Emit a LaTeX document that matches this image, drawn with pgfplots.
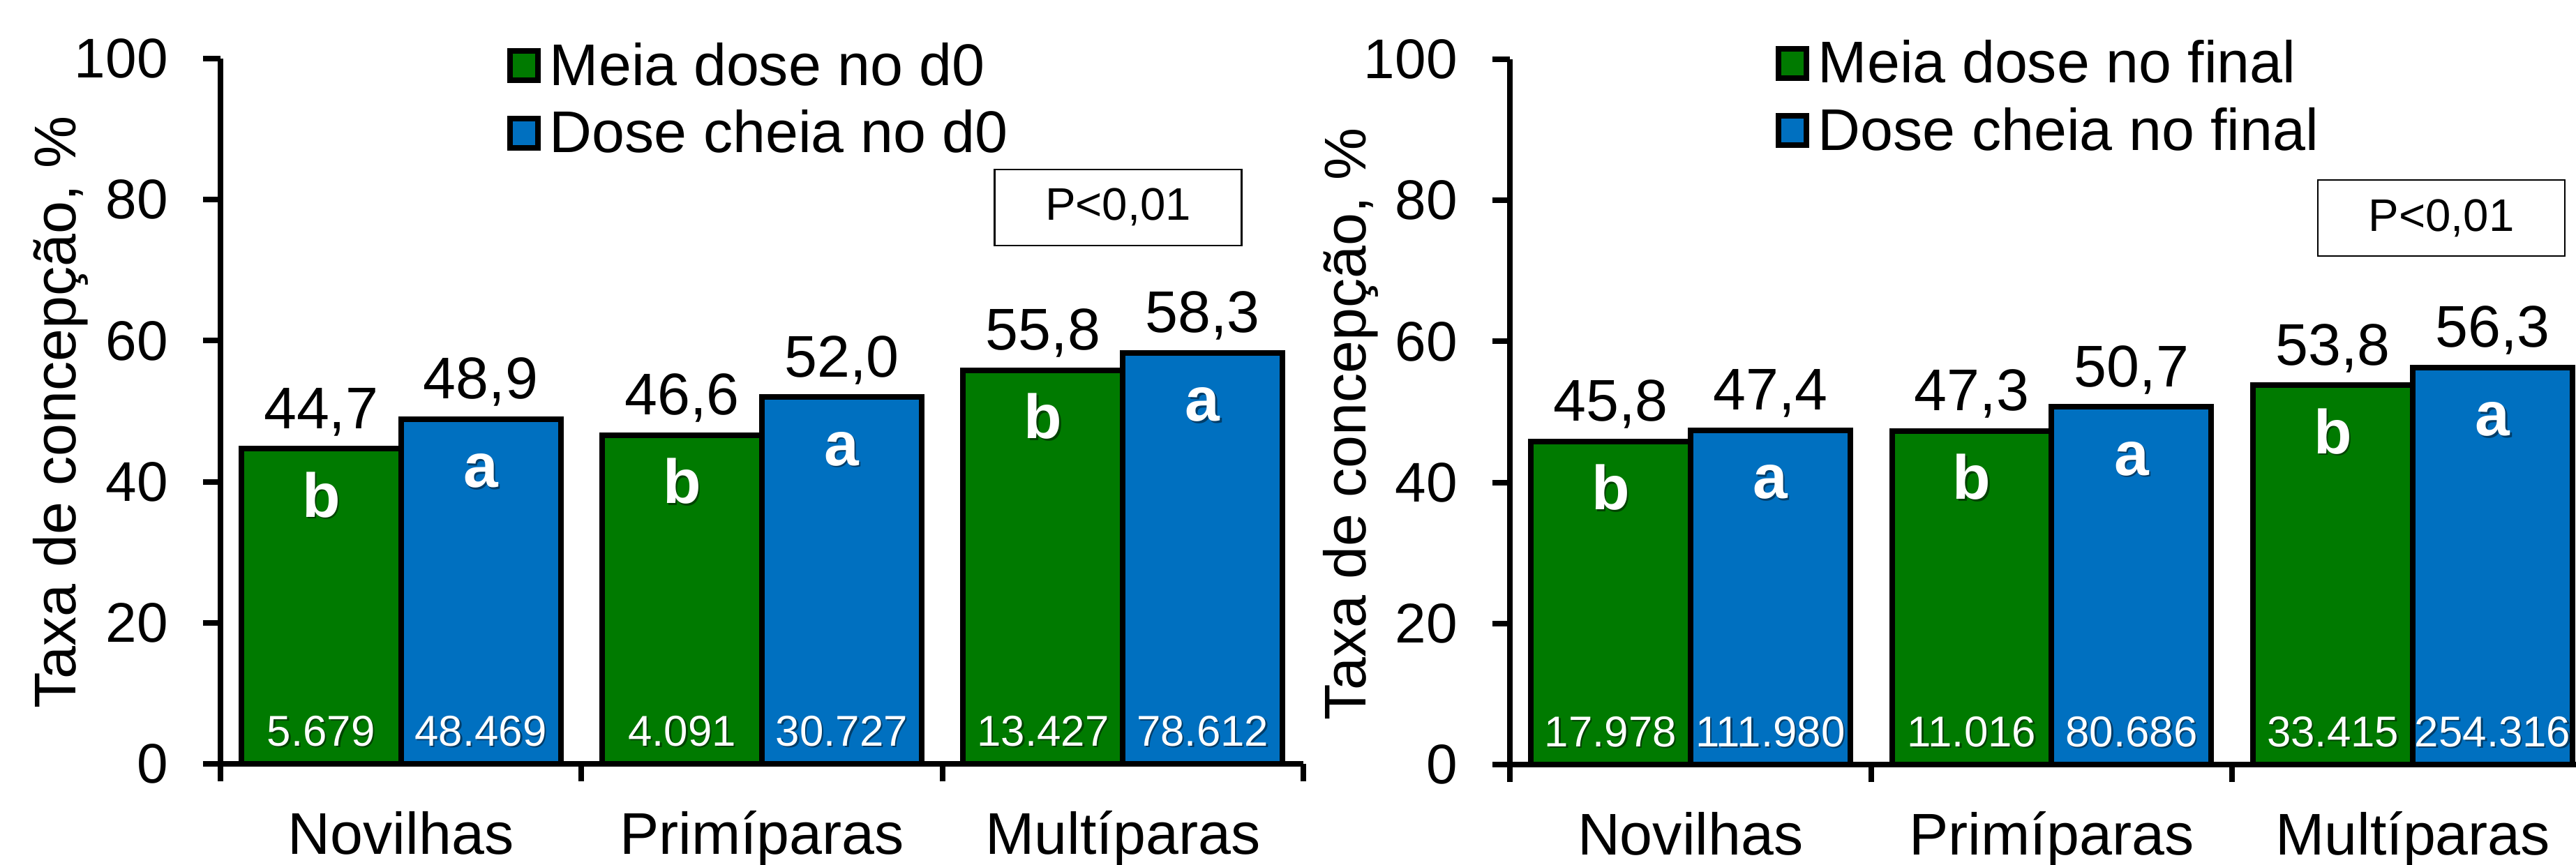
\documentclass[border=0pt]{standalone}
\usepackage{pgfplots}
\pgfplotsset{compat=1.18}
\usepackage{pgfplotstable}
\usepackage{fontspec}
\setmainfont{Liberation Sans}

\definecolor{meia}{RGB}{0,122,0}
\definecolor{cheia}{RGB}{0,112,192}

\newcommand\bigf{\fontsize{12}{14}\selectfont}
\newcommand\tickf{\fontsize{11.4}{13}\selectfont}
\newcommand\nf{\fontsize{8.8}{10}\selectfont}
\newcommand\letf{\fontsize{12.7}{14}\selectfont\bfseries}
\newcommand\pf{\fontsize{9.3}{11}\selectfont}

% d0 panel
\pgfplotstableread{
x   y    lab  n      let
0.5 44.7 44,7 5.679  b
1.5 46.6 46,6 4.091  b
2.5 55.8 55,8 13.427 b
}\meiaD
\pgfplotstableread{
x   y    lab  n      let
0.5 48.9 48,9 48.469 a
1.5 52.0 52,0 30.727 a
2.5 58.3 58,3 78.612 a
}\cheiaD
% final panel
\pgfplotstableread{
x   y    lab  n      let
0.5 45.8 45,8 17.978 b
1.5 47.3 47,3 11.016 b
2.5 53.8 53,8 33.415 b
}\meiaF
\pgfplotstableread{
x   y    lab  n       let
0.5 47.4 47,4 111.980 a
1.5 50.7 50,7 80.686  a
2.5 56.3 56,3 254.316 a
}\cheiaF

\pgfplotsset{
  panel/.style={
    scale only axis, height=50.55mm,
    xmin=0, xmax=3, ymin=0, ymax=100,
    axis x line*=bottom, axis y line*=left,
    axis line style={-, line width=0.4mm},
    tick style={line width=0.4mm, black},
    tick align=outside, major tick length=1.25mm,
    ytick={0,20,...,100},
    xtick={0,1,2,3}, xticklabels={},
    extra x ticks={0.5,1.5,2.5},
    extra x tick labels={Novilhas,Primíparas,Multíparas},
    extra x tick style={major tick length=0pt},
    xticklabel style={anchor=base, yshift=-6.45mm, font=\bigf},
    yticklabel style={font=\tickf, inner sep=0pt, xshift=-2.45mm},
    /pgf/number format/assume math mode=true,
    ylabel={Taxa de concepção, \%},
    legend style={draw=none, fill=none, inner sep=0pt, outer sep=0pt, font=\bigf,
      row sep=0.83mm, anchor=north west,
      nodes={inner sep=0pt, text height=3.1mm, text depth=0.9mm},
      /tikz/every odd column/.append style={column sep=0.65mm}},
    legend cell align=left,
    legend image code/.code={\draw[#1] (0.2mm,-0.75mm) rectangle (2.2mm,1.35mm);},
  },
  bars/.style={ybar, bar width=11.45mm, bar shift=0pt, draw=black, line width=0.4mm, forget plot,
    nodes near coords, point meta=explicit symbolic,
    every node near coord/.append style={font=\bigf, text=black, anchor=base, yshift=1.45mm}},
  letters/.style={ybar, bar width=11.45mm, bar shift=0pt, draw=none, fill=none, forget plot,
    nodes near coords, point meta=explicit symbolic,
    every node near coord/.append style={font=\letf, text=white, anchor=base, yshift=-4.9mm}},
  counts/.style={ybar, bar width=11.45mm, bar shift=0pt, draw=none, fill=none, forget plot,
    nodes near coords, point meta=explicit symbolic,
    every node near coord/.append style={font=\nf, text=white, anchor=base, yshift=1.3mm}},
  shadow/.style={every node near coord/.append style={text=black, opacity=0.45, xshift=0.12mm, yshift=-0.12mm}},
}

\begin{document}
\begin{tikzpicture}
\path[use as bounding box] (0,0) rectangle (184.6mm,61.95mm);

\begin{axis}[panel, width=77.6mm, at={(15.8mm,7.2mm)}, anchor=south west,
  ylabel style={font=\bigf, at={(axis description cs:-0.134,0.4985)}, anchor=base},
  legend style={at={(axis description cs:0.2648,1.0237)}}]
\addlegendimage{fill=meia, draw=black, line width=0.4mm}
\addlegendentry{Meia dose no d0}
\addlegendimage{fill=cheia, draw=black, line width=0.4mm}
\addlegendentry{Dose cheia no d0}
\addplot[bars, fill=meia] table[x expr=\thisrow{x}-0.2211, y=y, meta=lab] {\meiaD};
\addplot[bars, fill=cheia] table[x expr=\thisrow{x}+0.2211, y=y, meta=lab] {\cheiaD};
\addplot[letters, shadow] table[x expr=\thisrow{x}-0.2211, y=y, meta=let] {\meiaD};
\addplot[letters, shadow] table[x expr=\thisrow{x}+0.2211, y=y, meta=let] {\cheiaD};
\addplot[letters] table[x expr=\thisrow{x}-0.2211, y=y, meta=let] {\meiaD};
\addplot[letters] table[x expr=\thisrow{x}+0.2211, y=y, meta=let] {\cheiaD};
\addplot[counts, shadow] table[x expr=\thisrow{x}-0.2211, y expr=0, meta=n] {\meiaD};
\addplot[counts, shadow] table[x expr=\thisrow{x}+0.2211, y expr=0, meta=n] {\cheiaD};
\addplot[counts] table[x expr=\thisrow{x}-0.2211, y expr=0, meta=n] {\meiaD};
\addplot[counts] table[x expr=\thisrow{x}+0.2211, y expr=0, meta=n] {\cheiaD};
\node[draw, line width=0.13mm, minimum width=17.7mm, minimum height=5.45mm, inner sep=0pt, font=\pf]
  at (axis description cs:0.829,0.789) {P<0,01};
\end{axis}

\begin{axis}[panel, width=77.65mm, at={(108.2mm,7.15mm)}, anchor=south west,
  ylabel style={font=\bigf, at={(axis description cs:-0.1327,0.483)}, anchor=base},
  legend style={at={(axis description cs:0.2453,1.0282)}}]
\addlegendimage{fill=meia, draw=black, line width=0.4mm}
\addlegendentry{Meia dose no final}
\addlegendimage{fill=cheia, draw=black, line width=0.4mm}
\addlegendentry{Dose cheia no final}
\addplot[bars, fill=meia] table[x expr=\thisrow{x}-0.2211, y=y, meta=lab] {\meiaF};
\addplot[bars, fill=cheia] table[x expr=\thisrow{x}+0.2211, y=y, meta=lab] {\cheiaF};
\addplot[letters, shadow] table[x expr=\thisrow{x}-0.2211, y=y, meta=let] {\meiaF};
\addplot[letters, shadow] table[x expr=\thisrow{x}+0.2211, y=y, meta=let] {\cheiaF};
\addplot[letters] table[x expr=\thisrow{x}-0.2211, y=y, meta=let] {\meiaF};
\addplot[letters] table[x expr=\thisrow{x}+0.2211, y=y, meta=let] {\cheiaF};
\addplot[counts, shadow] table[x expr=\thisrow{x}-0.2211, y expr=0, meta=n] {\meiaF};
\addplot[counts, shadow] table[x expr=\thisrow{x}+0.2211, y expr=0, meta=n] {\cheiaF};
\addplot[counts] table[x expr=\thisrow{x}-0.2211, y expr=0, meta=n] {\meiaF};
\addplot[counts] table[x expr=\thisrow{x}+0.2211, y expr=0, meta=n] {\cheiaF};
\node[draw, line width=0.13mm, minimum width=17.7mm, minimum height=5.45mm, inner sep=0pt, font=\pf]
  at (axis description cs:0.8596,0.775) {P<0,01};
\end{axis}
\end{tikzpicture}
\end{document}
